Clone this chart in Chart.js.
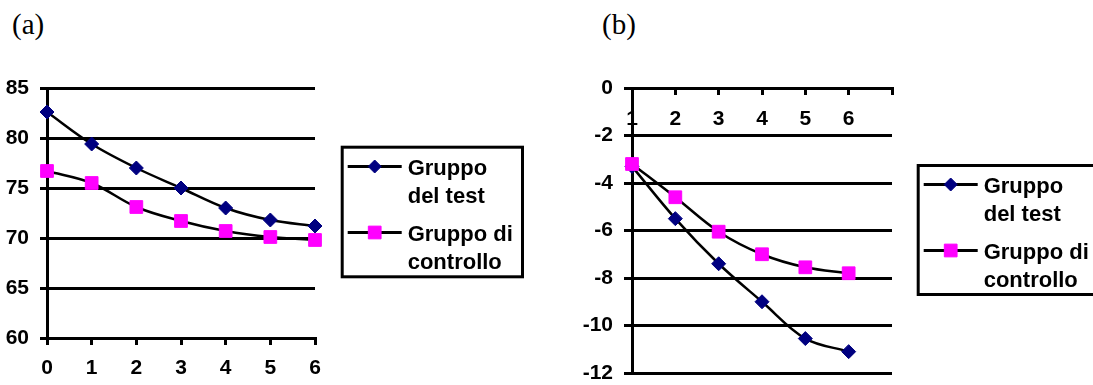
<!DOCTYPE html>
<html>
<head>
<meta charset="utf-8">
<title>Gruppo del test / Gruppo di controllo</title>
<script src="https://cdn.jsdelivr.net/npm/chart.js@4/dist/chart.umd.min.js"></script>
<style>
  html, body { margin: 0; padding: 0; background: #fff; }
  body { width: 1093px; height: 385px; position: relative; overflow: hidden; }
  canvas { position: absolute; top: 0; }
  #chartA { left: 0; }
  #chartB { left: 546px; }
  .tag {
    position: absolute;
    font-family: "Liberation Serif", "Times New Roman", serif;
    font-size: 29px;
    line-height: 29px;
    color: #000;
  }
</style>
</head>
<body>
<div class="tag" style="left:12px; top:10px;">(a)</div>
<div class="tag" style="left:602px; top:10px;">(b)</div>
<canvas id="chartA" width="546" height="385"></canvas>
<canvas id="chartB" width="547" height="385"></canvas>
<script>
// Panel (a): values over time, 0..6
const periodsA = ['0', '1', '2', '3', '4', '5', '6'];
const testA    = [82.6, 79.4, 77.0, 75.0, 73.0, 71.8, 71.2];
const controlA = [76.7, 75.5, 73.1, 71.7, 70.7, 70.1, 69.8];
const yRangeA  = [60, 85, 5];

// Panel (b): change per period, 1..6 (axis runs one step past the last period)
const periodsB = ['1', '2', '3', '4', '5', '6', ''];
const testB    = [-3.3, -5.5, -7.4, -9.0, -10.55, -11.1];
const controlB = [-3.2, -4.6, -6.05, -7.0, -7.55, -7.8];
const yRangeB  = [-12, 0, 2];

// Legend entries (two text lines each)
const legendTest    = ['Gruppo', 'del test'];
const legendControl = ['Gruppo di', 'controllo'];

const SANS = '"Liberation Sans", Arial, Helvetica, sans-serif';
const tickFont = { family: SANS, size: 21, weight: 'bold' };

function markerPath(ctx, style, r, x, y) {
  ctx.beginPath();
  if (style === 'rectRot') {
    ctx.moveTo(x, y - r); ctx.lineTo(x + r, y); ctx.lineTo(x, y + r); ctx.lineTo(x - r, y);
  } else {
    const s = r * Math.SQRT1_2;
    ctx.rect(x - s, y - s, 2 * s, 2 * s);
  }
  ctx.closePath();
  ctx.fill();
  ctx.stroke();
}

// Boxed legend: line sample with marker, two-line label
const boxLegend = {
  id: 'boxLegend',
  afterDraw(chart, args, opts) {
    const ctx = chart.ctx;
    const { x, y, w, h, lines } = opts;
    ctx.save();
    ctx.lineWidth = 3;
    ctx.strokeStyle = '#000';
    ctx.strokeRect(x + 1.5, y + 1.5, w - 3, h - 3);
    chart.data.datasets.forEach((ds, i) => {
      const iy = Math.round(y + 20 + i * 66) + 0.5;
      ctx.beginPath();
      ctx.lineWidth = 3;
      ctx.strokeStyle = '#000';
      ctx.moveTo(x + 7, iy);
      ctx.lineTo(x + 61, iy);
      ctx.stroke();
      ctx.fillStyle = ds.pointBackgroundColor;
      ctx.strokeStyle = ds.pointBorderColor;
      ctx.lineWidth = 1;
      const r = ds.pointStyle === 'rectRot' ? 6.5 : 9;
      if (Chart.helpers && Chart.helpers.drawPoint) {
        Chart.helpers.drawPoint(ctx, { pointStyle: ds.pointStyle, radius: r, borderWidth: 1, rotation: 0 }, x + 34, iy);
      } else {
        markerPath(ctx, ds.pointStyle, r, x + 34, iy);
      }
      ctx.fillStyle = '#000';
      ctx.font = 'bold 22px ' + SANS;
      ctx.textBaseline = 'alphabetic';
      ctx.textAlign = 'left';
      const txt = lines[i];
      ctx.fillText(txt[0], x + 67, iy + 8);
      ctx.fillText(txt[1], x + 67, iy + 36);
    });
    ctx.restore();
  }
};

function series(label, data, isTest) {
  return {
    label: label,
    data: data,
    borderColor: '#000',
    borderWidth: 2.5,
    tension: 0.35,
    fill: false,
    clip: false,
    pointStyle: isTest ? 'rectRot' : 'rect',
    pointRadius: isTest ? 7 : 9,
    pointHoverRadius: isTest ? 7 : 9,
    pointBackgroundColor: isTest ? '#000080' : '#ff00ff',
    pointBorderColor: isTest ? '#000080' : '#ff00ff',
    pointBorderWidth: 1,
    order: isTest ? 1 : 0
  };
}

const axisLine = { display: true, color: '#000', width: 3 };

// Panel (a)
new Chart(document.getElementById('chartA'), {
  type: 'line',
  data: {
    labels: periodsA,
    datasets: [
      series(legendTest.join(' '), testA, true),
      series(legendControl.join(' '), controlA, false)
    ]
  },
  options: {
    responsive: false,
    animation: false,
    devicePixelRatio: 1,
    layout: { padding: { left: 0, top: 88, right: 231, bottom: 0 } },
    plugins: {
      legend: { display: false },
      tooltip: { enabled: false },
      boxLegend: { x: 340.7, y: 145.7, w: 183.3, h: 132.6, lines: [legendTest, legendControl] }
    },
    scales: {
      x: {
        type: 'category',
        offset: false,
        grid: { display: true, drawOnChartArea: false, drawTicks: true, tickLength: 7, color: '#000', lineWidth: 3 },
        border: axisLine,
        ticks: { color: '#000', font: tickFont, padding: 11, autoSkip: false, maxRotation: 0 },
        afterFit(s) { s.height = 47; }
      },
      y: {
        min: yRangeA[0], max: yRangeA[1],
        grid: { color: '#000', lineWidth: 3, tickLength: 7, drawTicks: true },
        border: axisLine,
        ticks: { stepSize: yRangeA[2], color: '#000', font: tickFont, padding: 11 },
        afterFit(s) { s.width = 47; }
      }
    }
  },
  plugins: [boxLegend]
});

// Panel (b): category axis along the zero line, labels below it
new Chart(document.getElementById('chartB'), {
  type: 'line',
  data: {
    labels: periodsB,
    datasets: [
      series(legendTest.join(' '), testB, true),
      series(legendControl.join(' '), controlB, false)
    ]
  },
  options: {
    responsive: false,
    animation: false,
    devicePixelRatio: 1,
    layout: { padding: { left: 0, top: 0, right: 201, bottom: 12 } },
    plugins: {
      legend: { display: false },
      tooltip: { enabled: false },
      boxLegend: { x: 370.7, y: 164, w: 220, h: 132, lines: [legendTest, legendControl] }
    },
    scales: {
      x: {
        type: 'category',
        position: 'top',
        offset: false,
        grid: { display: true, drawOnChartArea: false, drawTicks: true, tickLength: -7, color: '#000', lineWidth: 3 },
        border: axisLine,
        ticks: { color: '#000', font: tickFont, padding: 19, mirror: true, autoSkip: false, maxRotation: 0 },
        afterFit(s) { s.height = 88; }
      },
      y: {
        min: yRangeB[0], max: yRangeB[1],
        grid: { color: '#000', lineWidth: 3, tickLength: 8, drawTicks: true },
        border: axisLine,
        ticks: { stepSize: yRangeB[2], color: '#000', font: tickFont, padding: 11 },
        afterFit(s) { s.width = 86; s.paddingBottom = 0; }
      }
    }
  },
  plugins: [boxLegend]
});
</script>
</body>
</html>
